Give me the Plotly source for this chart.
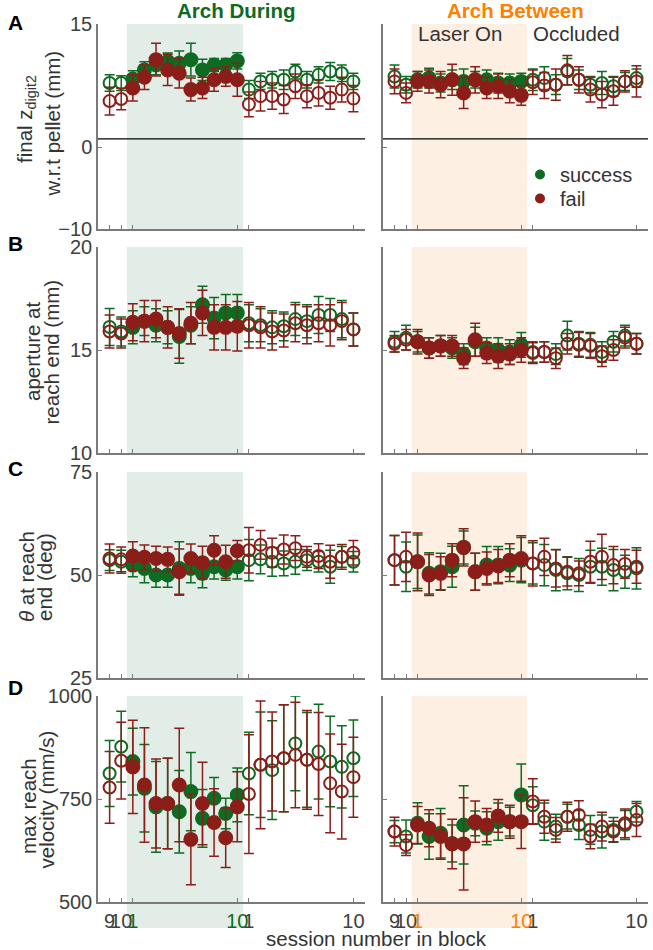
import plotly.graph_objects as go

W, H = 653, 950
GREEN = '#0d6b22'
RED = '#8c1e1a'
AXC = '#7a7a7a'
TXT = '#333333'
FONT = 'Liberation Sans, Arial, Helvetica, sans-serif'

# session index along x: 2 baseline (9,10), 10 laser (1..10), 10 occluded (1..10)
sessions = list(range(1, 23))
tick_pos = [1, 2, 3, 12, 13, 22]
tick_lbl = ['9', '10', '1', '10', '1', '10']
phase = ['base'] * 2 + ['laser'] * 10 + ['occl'] * 10
LASER_START, LASER_END = 2.5, 12.5
PELLET_LINE = 1

# ---- Panel A: final z digit2 ----
A_dur_succ = [7.8, 7.8, 8.3, 9.4, 10.0, 10.45, 10.2, 10.65, 9.4, 10.0, 10.0, 10.5, 7.0, 8.0, 8.2, 8.2, 9.2, 8.2, 8.8, 9.2, 9.0, 8.0]
A_dur_succ_e = [1.0, 0.9, 1.0, 1.0, 1.2, 1.0, 1.5, 2.0, 1.3, 0.8, 0.8, 1.0, 1.1, 1.0, 1.0, 1.2, 0.9, 1.0, 1.0, 1.1, 1.0, 1.0]
A_dur_fail = [5.6, 5.85, 7.2, 8.5, 10.65, 9.4, 9.0, 7.0, 7.2, 8.2, 8.6, 8.2, 5.2, 6.2, 6.2, 5.8, 7.4, 6.2, 6.6, 6.0, 7.0, 5.9]
A_dur_fail_e = [1.7, 1.3, 1.6, 1.5, 2.0, 1.9, 1.8, 1.4, 1.3, 1.4, 1.2, 2.0, 1.5, 1.8, 1.6, 1.7, 1.5, 1.4, 1.6, 1.4, 1.5, 1.6]
A_bet_succ = [8.6, 7.6, 8.2, 8.4, 7.8, 8.2, 8.0, 8.2, 8.2, 7.8, 7.8, 8.0, 8.2, 8.4, 7.6, 9.2, 8.2, 7.6, 7.8, 7.4, 8.0, 8.4]
A_bet_succ_e = [1.4, 1.0, 1.0, 1.2, 1.1, 1.2, 1.5, 1.0, 1.2, 1.2, 1.1, 1.0, 1.3, 1.4, 1.2, 1.6, 1.2, 1.0, 1.4, 1.2, 1.1, 1.1]
A_bet_fail = [8.0, 6.6, 8.0, 8.0, 7.6, 8.2, 6.6, 8.2, 7.2, 7.4, 6.8, 6.3, 7.9, 7.5, 7.6, 9.35, 8.2, 7.0, 6.4, 6.8, 8.0, 8.0]
A_bet_fail_e = [1.5, 1.2, 1.2, 1.4, 1.6, 1.9, 1.9, 1.6, 1.3, 1.5, 1.4, 1.2, 1.5, 1.6, 1.9, 1.8, 1.6, 1.5, 1.6, 1.7, 1.3, 1.9]

# ---- Panel B: aperture ----
B_dur_succ = [16.12, 15.9, 16.1, 16.4, 16.2, 16.1, 15.66, 16.2, 17.2, 16.55, 16.8, 16.8, 16.3, 16.2, 16.1, 16.15, 16.5, 16.4, 16.7, 16.7, 16.5, 16.0]
B_dur_succ_e = [0.9, 0.7, 0.8, 0.7, 0.8, 0.8, 1.3, 0.9, 0.9, 1.0, 0.9, 0.9, 0.9, 0.8, 0.8, 0.7, 0.8, 0.8, 0.9, 0.8, 0.9, 0.8]
B_dur_fail = [15.9, 15.8, 16.35, 16.4, 16.5, 16.1, 15.8, 16.3, 16.8, 16.1, 16.1, 16.15, 16.2, 16.1, 15.9, 15.95, 16.3, 16.2, 16.3, 16.2, 16.4, 16.0]
B_dur_fail_e = [0.8, 0.7, 0.9, 1.0, 0.9, 1.0, 1.2, 1.0, 1.1, 1.1, 1.1, 1.2, 1.1, 1.0, 0.9, 0.8, 0.9, 0.9, 0.9, 1.0, 0.9, 0.8]
B_bet_succ = [15.4, 15.6, 15.4, 15.1, 15.2, 15.1, 14.8, 15.4, 15.1, 15.0, 14.9, 15.25, 14.9, 14.9, 14.8, 15.7, 15.3, 15.25, 14.9, 15.4, 15.7, 15.3]
B_bet_succ_e = [0.5, 0.6, 0.5, 0.5, 0.5, 0.5, 0.5, 0.7, 0.5, 0.6, 0.6, 0.6, 0.5, 0.5, 0.5, 0.7, 0.6, 0.6, 0.5, 0.5, 0.5, 0.5]
B_bet_fail = [15.3, 15.5, 15.4, 15.1, 15.2, 15.2, 14.6, 15.5, 14.85, 14.7, 14.8, 15.0, 14.85, 14.9, 14.6, 15.3, 15.25, 15.2, 14.7, 15.0, 15.6, 15.3]
B_bet_fail_e = [0.4, 0.5, 0.6, 0.5, 0.5, 0.5, 0.5, 0.8, 0.5, 0.6, 0.5, 0.6, 0.5, 0.5, 0.5, 0.5, 0.6, 0.6, 0.5, 0.5, 0.5, 0.5]

# ---- Panel C: theta ----
C_dur_succ = [53.6, 53.2, 52.4, 51.6, 50.0, 50.0, 51.6, 51.6, 50.4, 52.0, 51.2, 52.0, 53.6, 53.8, 53.2, 52.8, 53.2, 53.6, 53.2, 52.0, 54.4, 53.2]
C_dur_succ_e = [2.5, 2.8, 2.8, 3.5, 3.0, 3.0, 6.5, 3.5, 3.5, 3.0, 2.5, 3.0, 5.0, 3.5, 3.5, 3.0, 3.0, 2.5, 2.5, 4.0, 2.5, 2.5]
C_dur_fail = [54.0, 53.8, 54.6, 54.3, 54.0, 53.8, 50.8, 54.0, 53.0, 56.0, 53.2, 55.9, 56.0, 57.3, 55.4, 56.2, 56.5, 54.4, 54.6, 53.2, 54.4, 55.4]
C_dur_fail_e = [3.5, 3.0, 3.5, 3.0, 3.0, 3.0, 5.5, 3.5, 4.0, 3.5, 4.0, 2.5, 5.5, 3.5, 3.5, 3.5, 3.0, 2.5, 3.0, 4.0, 3.0, 3.0]
C_bet_succ = [53.6, 52.0, 53.2, 50.4, 50.8, 52.0, 56.7, 50.8, 52.4, 52.4, 52.4, 53.6, 52.8, 52.4, 51.2, 50.4, 50.0, 52.0, 52.0, 51.2, 50.8, 51.6]
C_bet_succ_e = [6.0, 6.0, 6.5, 5.0, 4.5, 5.0, 4.0, 4.5, 4.5, 4.5, 4.0, 5.5, 5.0, 5.0, 5.0, 4.0, 4.0, 4.0, 4.5, 5.0, 4.0, 5.0]
C_bet_fail = [53.6, 54.4, 53.2, 50.0, 50.4, 53.6, 56.7, 50.8, 51.6, 52.2, 53.6, 54.0, 52.8, 54.4, 51.6, 50.8, 50.4, 53.2, 54.4, 52.4, 52.7, 52.0]
C_bet_fail_e = [6.0, 6.0, 7.0, 5.0, 4.0, 4.0, 4.5, 4.5, 4.0, 4.0, 4.0, 5.5, 5.5, 4.5, 4.5, 3.5, 3.0, 5.0, 5.5, 4.5, 3.5, 4.0]

# ---- Panel D: max reach velocity ----
D_dur_succ = [812, 877, 841, 776, 731, 739, 719, 768, 703, 752, 715, 760, 812, 833, 820, 849, 885, 845, 865, 841, 828, 849]
D_dur_succ_e = [80, 86, 81, 106, 110, 110, 100, 95, 70, 50, 37, 65, 100, 128, 120, 130, 115, 115, 115, 110, 100, 93]
D_dur_fail = [778, 843, 828, 784, 739, 739, 784, 652, 739, 693, 656, 731, 762, 833, 841, 849, 857, 845, 835, 788, 768, 803]
D_dur_fail_e = [87, 93, 113, 139, 108, 110, 138, 110, 100, 82, 72, 85, 144, 155, 120, 130, 128, 120, 125, 120, 115, 97]
D_bet_succ = [671, 659, 691, 659, 667, 642, 687, 691, 679, 695, 695, 760, 735, 695, 683, 707, 687, 675, 671, 675, 687, 719]
D_bet_succ_e = [27, 40, 50, 55, 60, 45, 95, 30, 40, 45, 35, 75, 45, 45, 30, 30, 35, 35, 40, 30, 35, 25]
D_bet_fail = [671, 638, 687, 679, 659, 641, 641, 695, 687, 709, 695, 695, 744, 707, 675, 707, 711, 659, 683, 671, 691, 699]
D_bet_fail_e = [35, 25, 45, 45, 55, 60, 112, 50, 40, 40, 40, 65, 55, 40, 30, 35, 35, 30, 35, 25, 35, 40]

panels = [
    dict(letter='A', yr=[-10, 15], yt=[-10, 0, 15],
         lines=[('final z<sub>digit2</sub>', 26, 119), ('w.r.t pellet (mm)', 51.5, 124)],
         data=[(A_dur_succ, A_dur_succ_e, A_dur_fail, A_dur_fail_e),
               (A_bet_succ, A_bet_succ_e, A_bet_fail, A_bet_fail_e)]),
    dict(letter='B', yr=[10, 20], yt=[10, 15, 20],
         lines=[('aperture at', 32, 352), ('reach end (mm)', 50.5, 352)],
         data=[(B_dur_succ, B_dur_succ_e, B_dur_fail, B_dur_fail_e),
               (B_bet_succ, B_bet_succ_e, B_bet_fail, B_bet_fail_e)]),
    dict(letter='C', yr=[25, 75], yt=[25, 50, 75],
         lines=[('<i>θ</i> at reach', 26, 577), ('end (deg)', 44, 577)],
         data=[(C_dur_succ, C_dur_succ_e, C_dur_fail, C_dur_fail_e),
               (C_bet_succ, C_bet_succ_e, C_bet_fail, C_bet_fail_e)]),
    dict(letter='D', yr=[500, 1000], yt=[500, 750, 1000],
         lines=[('max reach', 28, 806), ('velocity (mm/s)', 45.5, 800)],
         data=[(D_dur_succ, D_dur_succ_e, D_dur_fail, D_dur_fail_e),
               (D_bet_succ, D_bet_succ_e, D_bet_fail, D_bet_fail_e)]),
]

# pixel layout
x_dom_px = [(98, 365), (383, 648)]
y_dom_px = [(24, 229), (247, 453), (472, 678), (696, 902)]
letter_y = [22, 244, 469, 687]
side_col = [GREEN, '#ff8000']
shade_col = ['#e2ede7', '#fdf0e3']

symbols = ['circle' if ph == 'laser' else 'circle-open' for ph in phase]
sizes = [13 if ph == 'laser' else 12 for ph in phase]

fig = go.Figure()
layout = {}
shapes = []
annotations = []

def ann(text, xpx, ypx, size, color, angle=0):
    return dict(text=text, x=xpx / W, y=1 - ypx / H, xref='paper', yref='paper',
                xanchor='center', yanchor='middle', showarrow=False, textangle=angle,
                font=dict(size=size, color=color))

for p, pan in enumerate(panels):
    y0, y1 = y_dom_px[p]
    for s in range(2):
        k = p * 2 + s + 1
        xa = 'x' if k == 1 else f'x{k}'
        ya = 'y' if k == 1 else f'y{k}'
        xd = x_dom_px[s]
        succ, succ_e, fail, fail_e = pan['data'][s]
        for col, m, e in [(GREEN, succ, succ_e), (RED, fail, fail_e)]:
            fig.add_trace(go.Scatter(
                x=sessions, y=m, mode='markers', xaxis=xa, yaxis=ya,
                showlegend=False, cliponaxis=False, opacity=1,
                marker=dict(symbol=symbols, size=sizes, color=col, opacity=1,
                            line=dict(color=col, width=2)),
                error_y=dict(type='data', array=e, color=col, thickness=1.5, width=5)))
        if p == 3:
            tt = [f'<span style="color:{side_col[s]}">{t}</span>' if i in (2, 3) else t
                  for i, t in enumerate(tick_lbl)]
        else:
            tt = [''] * len(tick_lbl)
        layout['xaxis' if k == 1 else f'xaxis{k}'] = dict(
            domain=[xd[0] / W, xd[1] / W], range=[0, 23], anchor=ya,
            tickmode='array', tickvals=tick_pos, ticktext=tt, tickangle=0,
            showline=True, linecolor=AXC, linewidth=1.5, ticks='inside', ticklen=4,
            tickcolor=AXC, showgrid=False, zeroline=False, automargin=False,
            tickfont=dict(size=20, color='#404040'))
        layout['yaxis' if k == 1 else f'yaxis{k}'] = dict(
            domain=[1 - y1 / H, 1 - y0 / H], range=pan['yr'], anchor=xa,
            tickmode='array', tickvals=pan['yt'], showticklabels=(s == 0),
            showline=True, linecolor=AXC, linewidth=1.5, ticks='inside', ticklen=4,
            tickcolor=AXC, showgrid=False, zeroline=False, automargin=False,
            tickfont=dict(size=20, color='#404040'))
        ybot = -(928 - y1) / (y1 - y0) if p == 3 else 0
        shapes.append(dict(type='rect', xref=xa, yref=f'{ya} domain',
                           x0=LASER_START, x1=LASER_END, y0=ybot, y1=1,
                           fillcolor=shade_col[s], line=dict(width=0), layer='below'))
        if p == 0:
            shapes.append(dict(type='line', xref=f'{xa} domain', yref=ya,
                               x0=0, x1=1, y0=PELLET_LINE, y1=PELLET_LINE,
                               line=dict(color='black', width=1.2)))
    for txt, lx, ly in pan['lines']:
        annotations.append(ann(txt, lx, ly, 20.5, TXT, -90))
    annotations.append(ann(f'<b>{pan["letter"]}</b>', 15, letter_y[p], 21, 'black'))

annotations += [
    ann('<b>Arch During</b>', 236, 11, 20.5, GREEN),
    ann('<b>Arch Between</b>', 515, 11, 20.5, '#ff8000'),
    ann('Laser On', 460, 33, 20.5, TXT),
    ann('Occluded', 576, 33, 20.5, TXT),
    ann('session number in block', 376, 938, 20.5, TXT),
]

# legend entries (one legend box per entry for tight MATLAB-like spacing)
for name, col, lg in [('success', GREEN, 'legend'), ('fail', RED, 'legend2')]:
    fig.add_trace(go.Scatter(x=[None], y=[None], mode='markers', name=name,
                             xaxis='x2', yaxis='y2', legend=lg,
                             marker=dict(symbol='circle', size=10, color=col)))

leg_common = dict(xanchor='left', yanchor='top', bgcolor='rgba(0,0,0,0)',
                  font=dict(size=20, color=TXT), itemwidth=30, tracegroupgap=0)

fig.update_layout(
    template='none',
    width=W, height=H, margin=dict(l=0, r=0, t=0, b=0, pad=0),
    paper_bgcolor='white', plot_bgcolor='rgba(0,0,0,0)',
    font=dict(family=FONT, size=18, color=TXT),
    shapes=shapes, annotations=annotations,
    legend=dict(x=520 / W, y=1 - 155 / H, **leg_common),
    legend2=dict(x=520 / W, y=1 - 179 / H, **leg_common),
    **layout)

fig.write_html('out.html', config={'displayModeBar': False},
               post_script="document.body.style.margin='0px';document.body.style.overflow='hidden';")
